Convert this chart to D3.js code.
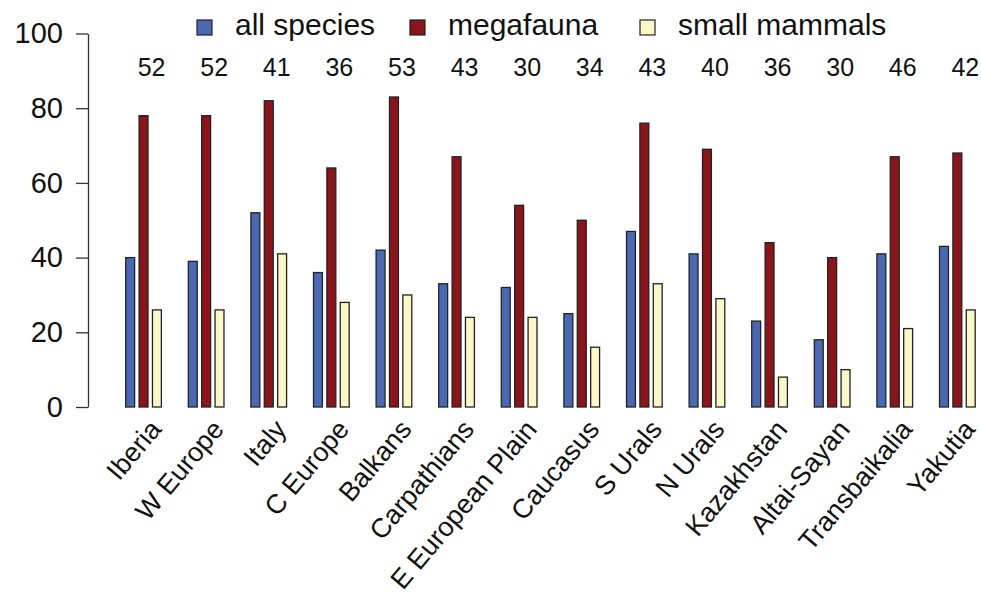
<!DOCTYPE html>
<html>
<head>
<meta charset="utf-8">
<script src="https://cdn.jsdelivr.net/npm/d3@7"></script>
<style>
  body { margin: 0; background: #fff; }
  svg { font-family: "Liberation Sans", Arial, sans-serif; }
</style>
</head>
<body>
<svg width="981" height="599"></svg>
<script>
const width = 981,
  height = 599;

// regions along the x axis
const regions = ["Iberia", "W Europe", "Italy", "C Europe", "Balkans", "Carpathians",
  "E European Plain", "Caucasus", "S Urals", "N Urals", "Kazakhstan", "Altai-Sayan",
  "Transbaikalia", "Yakutia"];

// series values (percent)
const allSpecies = [40, 39, 52, 36, 42, 33, 32, 25, 47, 41, 23, 18, 41, 43];
const megafauna = [78, 78, 82, 64, 83, 67, 54, 50, 76, 69, 44, 40, 67, 68];
const smallMammals = [26, 26, 41, 28, 30, 24, 24, 16, 33, 29, 8, 10, 21, 26];

// numbers printed above each group
const topCounts = [52, 52, 41, 36, 53, 43, 30, 34, 43, 40, 36, 30, 46, 42];

const seriesNames = ["all species", "megafauna", "small mammals"];
const seriesColors = ["#4b69b3", "#8a161b", "#fcf7c8"];
const yTicks = [0, 20, 40, 60, 80, 100];

const series = [allSpecies, megafauna, smallMammals];

const svg = d3.select("svg");

/////////////////////////////////////////////////////////////////////////////
////////////////                 SCALES                    //////////////////
/////////////////////////////////////////////////////////////////////////////
const y = d3.scaleLinear().domain([0, 100]).range([407, 33.5]);

const x0 = d3
  .scaleBand()
  .domain(regions)
  .range([125.7, 975.2])
  .paddingInner(0.43)
  .paddingOuter(0);

const x1 = d3
  .scaleBand()
  .domain(seriesNames)
  .range([0, x0.bandwidth()])
  .paddingInner(0.333)
  .paddingOuter(0);

const color = d3.scaleOrdinal().domain(seriesNames).range(seriesColors);

/////////////////////////////////////////////////////////////////////////////
////////////////                 Y AXIS                    //////////////////
/////////////////////////////////////////////////////////////////////////////
const yAxis = svg
  .append("g")
  .attr("transform", "translate(88,0)")
  .call(d3.axisLeft(y).tickValues(yTicks).tickSize(12).tickSizeOuter(0).tickPadding(13));

yAxis.select(".domain").attr("stroke", "#333").attr("stroke-width", 1.3);
yAxis.selectAll(".tick line").attr("stroke", "#333").attr("stroke-width", 1.3);
yAxis
  .selectAll(".tick text")
  .attr("font-family", "Liberation Sans, Arial, sans-serif")
  .attr("font-size", 29)
  .attr("fill", "#111");

/////////////////////////////////////////////////////////////////////////////
////////////////                  BARS                     //////////////////
/////////////////////////////////////////////////////////////////////////////
const rows = regions.map((r, i) => ({
  region: r,
  values: seriesNames.map((s, j) => ({ name: s, value: series[j][i] }))
}));

const groups = svg
  .selectAll(".group")
  .data(rows)
  .enter()
  .append("g")
  .attr("class", "group")
  .attr("transform", d => "translate(" + x0(d.region) + ",0)");

groups
  .selectAll("rect")
  .data(d => d.values)
  .enter()
  .append("rect")
  .attr("x", d => x1(d.name))
  .attr("y", d => y(d.value))
  .attr("width", x1.bandwidth())
  .attr("height", d => y(0) - y(d.value))
  .attr("fill", d => color(d.name))
  .attr("stroke", "#222")
  .attr("stroke-width", 1.3);

// counts above each group
svg
  .selectAll(".count")
  .data(regions)
  .enter()
  .append("text")
  .attr("class", "count")
  .attr("x", d => x0(d) + x0.bandwidth() / 2 + 8)
  .attr("y", 76)
  .attr("text-anchor", "middle")
  .attr("font-size", 25)
  .attr("fill", "#111")
  .text((d, i) => topCounts[i]);

// rotated region labels
svg
  .selectAll(".xlab")
  .data(regions)
  .enter()
  .append("text")
  .attr("class", "xlab")
  .attr("transform", d => "translate(" + (x0(d) + x0.bandwidth() / 2 + 19) + ",430) rotate(-50)")
  .attr("text-anchor", "end")
  .attr("font-size", 27)
  .attr("fill", "#111")
  .text(d => d);

/////////////////////////////////////////////////////////////////////////////
////////////////                 LEGEND                    //////////////////
/////////////////////////////////////////////////////////////////////////////
const legendX = [197, 410, 640];

const legend = svg
  .selectAll(".legend")
  .data(seriesNames)
  .enter()
  .append("g")
  .attr("class", "legend")
  .attr("transform", (d, i) => "translate(" + legendX[i] + ",0)");

legend
  .append("rect")
  .attr("x", 0)
  .attr("y", 20)
  .attr("width", 15)
  .attr("height", 15)
  .attr("fill", d => color(d))
  .attr("stroke", "#222")
  .attr("stroke-width", 1.2);

legend
  .append("text")
  .attr("x", 38)
  .attr("y", 35)
  .attr("font-size", 30)
  .attr("fill", "#111")
  .text(d => d);
</script>
</body>
</html>
